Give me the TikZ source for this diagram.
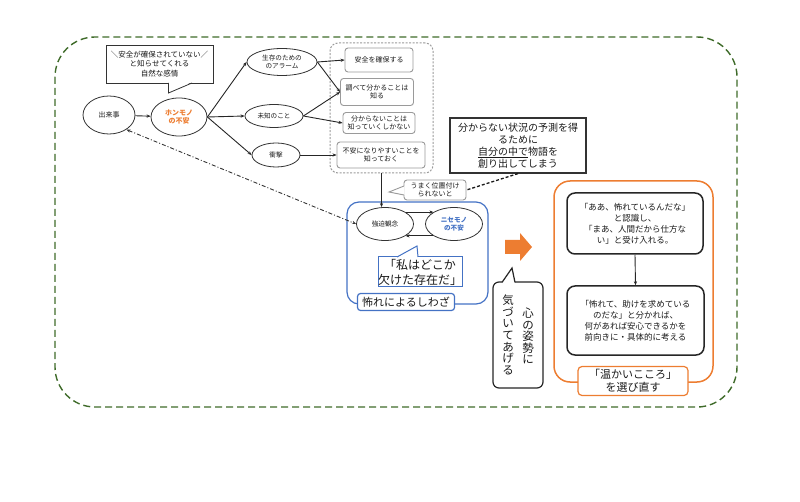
\documentclass[tikz,border=0pt]{standalone}
\usepackage{fontspec}
\setmainfont{Noto Sans CJK JP}
\usetikzlibrary{shapes.geometric,arrows.meta}
\definecolor{dgreen}{HTML}{3F6B2A}
\definecolor{orng}{HTML}{ED7D31}
\definecolor{blu}{HTML}{4472C4}
\definecolor{txt}{HTML}{1A1A1A}
\definecolor{gry}{HTML}{9A9A9A}
\begin{document}
\begin{tikzpicture}[x=1pt,y=-1pt,
  every node/.style={text=txt, align=center, inner sep=0pt},
  ell/.style={ellipse, draw=black!80, line width=0.8pt, fill=white},
  gbox/.style={draw=gry, rounded corners=3pt, line width=0.9pt, fill=white},
  conn/.style={draw=black!85, line width=0.9pt, -{Stealth[length=4pt,width=3.2pt]}},
  fsA/.style={font=\fontsize{7}{8.6}\selectfont},
  fsS/.style={font=\fontsize{6.6}{8.4}\selectfont},
  fsC/.style={font=\fontsize{7.5}{9.5}\selectfont},
  fsB/.style={font=\fontsize{8.5}{11}\selectfont},
  fsM/.style={font=\fontsize{10}{12}\selectfont},
  fsL/.style={font=\fontsize{11}{13}\selectfont},
  fsV/.style={font=\fontsize{11.5}{11.6}\selectfont},
]
\useasboundingbox (0,0) rectangle (800,502);
% outer dashed frame
\draw[dgreen, line width=1.4pt, dash pattern=on 7pt off 4pt, rounded corners=40pt] (55,37) rectangle (737,407);

% left nodes
\node[ell, minimum width=52pt, minimum height=38pt, fsA] (deki) at (109,115) {出来事};
\node[ell, minimum width=56pt, minimum height=38pt, fsA, text=orng] (honmo) at (179,117) {\bfseries ホンモノ\\\bfseries の不安};

% callout above honmo
\node[draw=black!80, line width=0.8pt, fill=white, minimum width=107pt, minimum height=38pt, fsC] (call1) at (159.5,64) {＼安全が確保されていない／\\と知らせてくれる\\自然な感情};
\fill[white] (168.5,82) -- (168.5,93) -- (192,82) -- cycle;
\draw[black!80, line width=0.8pt] (168.5,83) -- (168.5,93) -- (192,83);

% middle ellipses
\node[ell, minimum width=70pt, minimum height=27pt, fsS] (alarm) at (282,62) {生存のための\\のアラーム};
\node[ell, minimum width=58pt, minimum height=23pt, fsS] (michi) at (274,116) {未知のこと};
\node[ell, minimum width=48pt, minimum height=24pt, fsS] (shogeki) at (276,155) {衝撃};

% dashed group
\node[draw=gry, line width=1pt, dash pattern=on 2pt off 1.5pt, rounded corners=8pt, minimum width=103pt, minimum height=130pt] (grp) at (381.5,108) {};
\node[gbox, minimum width=68pt, minimum height=24pt, fsA] (anzen) at (379,60) {安全を確保する};
\node[gbox, minimum width=73pt, minimum height=27pt, fsA] (shirabe) at (377,92) {調べて分かることは\\知る};
\node[gbox, minimum width=72pt, minimum height=21pt, fsA] (wakara) at (379,123) {分からないことは\\知っていくしかない};
\node[gbox, minimum width=88pt, minimum height=26pt, fsA] (fuan) at (381,155) {不安になりやすいことを\\知っておく};

% connectors left part
\draw[conn] (deki) -- (honmo);
\draw[conn] (honmo.east) -- (alarm.west);
\draw[conn] (honmo.east) -- (michi.west);
\draw[conn] (honmo.east) -- (shogeki.west);
\draw[conn] (alarm.east) -- (anzen.west);
\draw[conn] (alarm.east) -- (shirabe.west);
\draw[conn] (michi.east) -- (shirabe.west);
\draw[conn] (michi.east) -- (wakara.west);
\draw[conn] (shogeki.east) -- (fuan.west);

% box: story
\node[draw=black!80, line width=1.2pt, fill=white, minimum width=136pt, minimum height=55pt, fsM] (story) at (518,145.5) {分からない状況の予測を得\\るために\\\underline{自分の中で}物語を\\創り出してしまう};

% callout umaku
\node[gbox, minimum width=62pt, minimum height=20pt, fsA] (umaku) at (435,190) {うまく位置付け\\られないと};
\fill[white] (404.5,186) -- (389,192) -- (404.5,195) -- cycle;
\draw[gry, line width=0.9pt] (404,186) -- (389,192) -- (404,195);
\draw[black!90, line width=1.3pt, dash pattern=on 3pt off 2pt] (story.south) -- (umaku.east);

% blue group
\node[draw=blu, line width=1.2pt, rounded corners=12pt, minimum width=141pt, minimum height=102pt] (blue) at (417.5,253) {};
\node[ell, minimum width=57pt, minimum height=33pt, fsS] (kyo) at (385,224) {強迫観念};
\node[ell, minimum width=57pt, minimum height=33pt, fsS, text=blu] (nise) at (454,224) {\bfseries ニセモノ\\\bfseries の不安};
\draw[conn] (kyo.30) -- (nise.150);
\draw[conn] (nise.210) -- (kyo.330);
\draw[conn] (grp.south) -- (grp.south |- kyo.north);
\draw[black!80, line width=0.9pt, dash pattern=on 4pt off 2pt on 1pt off 2pt, {Stealth[length=4pt,width=3.2pt]}-{Stealth[length=4pt,width=3.2pt]}] (deki.-40) -- (kyo.west);

% callout watashi
\node[draw=blu, line width=1pt, fill=white, minimum width=80pt, minimum height=30pt, font=\fontsize{12}{15}\selectfont] (watashi) at (420,272) {「私はどこか\\欠けた存在だ」};
\fill[white] (397,257.5) -- (417,246) -- (418,257.5) -- cycle;
\draw[blu, line width=1pt] (397,257) -- (417,246) -- (418,257);

% label fear
\node[draw=blu, fill=white, line width=1.2pt, rounded corners=3pt, minimum width=97pt, minimum height=17pt, fsL] (fear) at (406,302) {怖れによるしわざ};

% orange arrow
\fill[orng] (505,240) -- (520,240) -- (520,233) -- (532,247) -- (520,261) -- (520,254) -- (505,254) -- cycle;

% speech bubble kokoro
\node[draw=black!85, line width=1.2pt, rounded corners=6pt, fill=white, minimum width=50pt, minimum height=106pt] (kokoro) at (518,335) {};
\fill[white] (502,283) -- (512,268) -- (515,283) -- cycle;
\draw[black!85, line width=1.2pt] (502,282.4) -- (512,268) -- (515,282.4);
\node[fsV] (colA) at (528,336) {心\\の\\姿\\勢\\に};
\node[fsV] (colB) at (508,335) {気\\づ\\い\\て\\あ\\げ\\る};

% orange group
\node[draw=orng, line width=1.5pt, rounded corners=16pt, minimum width=159pt, minimum height=201pt] (warm) at (633.5,281.5) {};
\node[draw=black!85, line width=1.5pt, rounded corners=8pt, fill=white, minimum width=136pt, minimum height=61pt, fsB] (box1) at (635,223.5) {「ああ、怖れているんだな」\\と認識し、\\「まあ、人間だから仕方な\\い」と受け入れる。};
\node[draw=black!85, line width=1.5pt, rounded corners=8pt, fill=white, minimum width=137pt, minimum height=69pt, fsB] (box2) at (635.5,320.5) {「怖れて、助けを求めている\\のだな」と分かれば、\\何があれば安心できるかを\\前向きに・具体的に考える};
\draw[conn] (box1.south) -- (box2.north);
\node[draw=orng, fill=white, line width=1.2pt, rounded corners=4pt, minimum width=110pt, minimum height=29pt, fsL] (choose) at (633,381) {「温かいこころ」\\を選び直す};
\end{tikzpicture}
\end{document}
